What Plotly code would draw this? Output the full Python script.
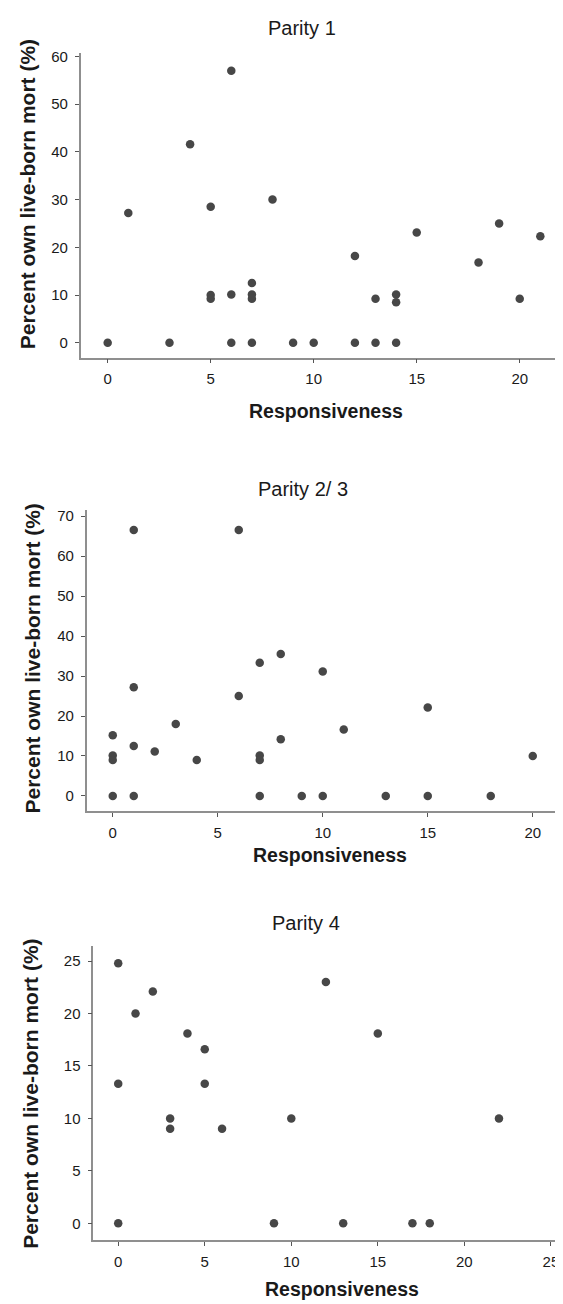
import plotly.graph_objects as go

# ---------------- data ----------------
p1_x = [0, 1, 3, 4, 5, 5, 5, 6, 6, 6, 7, 7, 7, 7, 8, 9, 10, 12, 12, 13, 13, 14, 14, 14, 15, 18, 19, 20, 21]
p1_y = [0, 27.2, 0, 41.6, 28.5, 10, 9.2, 57, 10.1, 0, 12.5, 10.1, 9.2, 0, 30, 0, 0, 18.2, 0, 9.2, 0, 10.1, 8.5, 0, 23.1, 16.8, 25, 9.2, 22.3]

p2_x = [0, 0, 0, 0, 1, 1, 1, 1, 2, 3, 4, 6, 6, 7, 7, 7, 7, 8, 8, 9, 10, 10, 11, 13, 15, 15, 18, 20]
p2_y = [15.2, 10.1, 9, 0, 66.5, 27.2, 12.5, 0, 11.1, 18, 9, 66.5, 25, 33.3, 10.1, 9, 0, 35.5, 14.2, 0, 31.1, 0, 16.6, 0, 22.1, 0, 0, 10]

p3_x = [0, 0, 0, 1, 2, 3, 3, 4, 5, 5, 6, 9, 10, 12, 13, 15, 17, 18, 22]
p3_y = [24.8, 13.3, 0, 20, 22.1, 10, 9, 18.1, 16.6, 13.3, 9, 0, 10, 23, 0, 18.1, 0, 0, 10]

titles = ["Parity 1", "Parity 2/ 3", "Parity 4"]
x_title = "Responsiveness"
y_title = "Percent own live-born mort (%)"

p1_yticks = [0, 10, 20, 30, 40, 50, 60]
p2_yticks = [0, 10, 20, 30, 40, 50, 60, 70]
p3_yticks = [0, 5, 10, 15, 20, 25]
p12_xticks = [0, 5, 10, 15, 20]
p3_xticks = [0, 5, 10, 15, 20, 25]

# ---------------- layout geometry (pixels) ----------------
# The page body has an 8px default margin, so the figure is sized to fill
# the rest of the 563x1304 window and page coordinates are offset by 8px.
OFF = 8
W, H = 563 - OFF, 1304 - OFF
FONT = "Liberation Sans, Arial, sans-serif"
MARK = "#474747"
AXC = "#8f8f8f"


def px(x):
    return (x - OFF) / W


def py(y):
    return 1 - (y - OFF) / H


panels = [
    dict(x=p1_x, y=p1_y, xdom=[px(80.7), 1.0], ydom=[py(354), py(48.3)],
         xr=[-1.31, 22.1], yr=[-3.13, 60.7], yt=p1_yticks, xt=p12_xticks,
         title=(301.6, 23), xtitle=(326, 408), ytitle=(27, 190)),
    dict(x=p2_x, y=p2_y, xdom=[px(86.7), px(559)], ydom=[py(809.3), py(507)],
         xr=[-1.24, 21.25], yr=[-3.81, 71.5], yt=p2_yticks, xt=p12_xticks,
         title=(302.5, 486), xtitle=(330, 853), ytitle=(32, 656)),
    dict(x=p3_x, y=p3_y, xdom=[px(93.3), 1.0], ydom=[py(1240), py(945)],
         xr=[-1.44, 25.7], yr=[-1.62, 26.4], yt=p3_yticks, xt=p3_xticks,
         title=(306.5, 922), xtitle=(341.6, 1289), ytitle=(31, 1093)),
]

fig = go.Figure()
annotations = []
for i, p in enumerate(panels):
    sfx = "" if i == 0 else str(i + 1)
    fig.add_trace(go.Scatter(
        x=p["x"], y=p["y"], mode="markers",
        marker=dict(color=MARK, size=8.5, line=dict(width=0)),
        xaxis="x" + sfx, yaxis="y" + sfx, showlegend=False,
        hoverinfo="x+y",
    ))
    common = dict(showgrid=False, zeroline=False, showline=True, linecolor=AXC,
                  linewidth=1.5, ticks="outside", ticklen=4, tickwidth=1,
                  tickcolor="#555555", ticklabeloverflow="allow",
                  tickfont=dict(family=FONT, size=15, color="#1a1a1a"))
    fig.update_layout(**{
        "xaxis" + sfx: dict(domain=p["xdom"], range=p["xr"], tickvals=p["xt"],
                            anchor="y" + sfx, ticklabelstandoff=3, **common),
        "yaxis" + sfx: dict(domain=p["ydom"], range=p["yr"], tickvals=p["yt"],
                            anchor="x" + sfx, ticklabelstandoff=4, **common),
    })
    annotations.append(dict(text=titles[i], x=px(p["title"][0]), y=py(p["title"][1]),
                            xref="paper", yref="paper", showarrow=False,
                            xanchor="center", yanchor="middle",
                            font=dict(family=FONT, size=20, color="#1a1a1a")))
    annotations.append(dict(text="<b>" + x_title + "</b>", x=px(p["xtitle"][0]), y=py(p["xtitle"][1]),
                            xref="paper", yref="paper", showarrow=False,
                            xanchor="center", yanchor="middle",
                            font=dict(family=FONT, size=19.5, color="#1a1a1a")))
    annotations.append(dict(text="<b>" + y_title + "</b>", x=px(p["ytitle"][0]), y=py(p["ytitle"][1]),
                            xref="paper", yref="paper", showarrow=False, textangle=-90,
                            xanchor="center", yanchor="middle",
                            font=dict(family=FONT, size=21, color="#1a1a1a")))

fig.update_layout(width=W, height=H, margin=dict(l=0, r=0, t=0, b=0),
                  paper_bgcolor="white", plot_bgcolor="white",
                  annotations=annotations)

fig.write_html("out.html")
